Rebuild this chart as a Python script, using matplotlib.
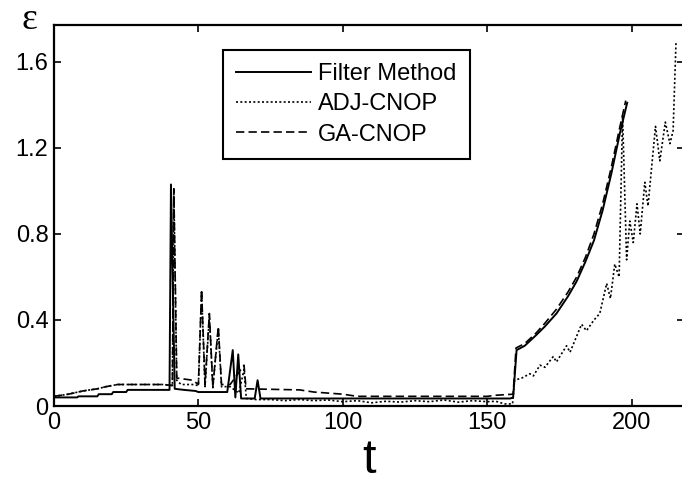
import numpy as np
import matplotlib
matplotlib.use("Agg")
import matplotlib.pyplot as plt

# Filter Method (solid)
t_filter = [0, 8, 8.5, 15, 15.5, 20, 20.5, 25, 25.5, 40, 40.5, 41.8, 45, 49, 50, 60,
            61.9, 62.8, 63.8, 64.8, 66, 69.5, 70.5, 71.5, 100, 150, 158, 159,
            160.2, 163, 167, 170, 174, 178, 181, 184, 187, 190, 193, 196, 198.5]
e_filter = [0.04, 0.04, 0.045, 0.045, 0.055, 0.055, 0.065, 0.065, 0.075, 0.075, 1.03, 0.08, 0.075, 0.07, 0.065, 0.065,
            0.26, 0.04, 0.24, 0.035, 0.035, 0.035, 0.12, 0.035, 0.035, 0.035, 0.035, 0.04,
            0.26, 0.28, 0.33, 0.37, 0.43, 0.51, 0.58, 0.67, 0.77, 0.91, 1.08, 1.27, 1.41]

# ADJ-CNOP (dotted)
t_adj = [0, 5, 10, 15, 18, 22, 38, 41, 41.5, 42.5, 44, 48, 50, 51.1, 52.3, 53.8, 55, 56.9, 58, 61,
         62, 64, 65.8, 66.6, 70, 75, 80, 85, 90, 95, 100, 105, 110, 115, 120, 125, 130, 135,
         140, 145, 150, 153, 156, 158.8, 159.5, 162, 164.8, 166, 168.3, 170, 172.9, 174, 177.5,
         178.7, 182.7, 184.4, 187, 189, 191.4, 192.7, 194.2, 195.7, 196.9, 198.3, 199.4, 200.6,
         201.9, 203, 204.6, 205.7, 208.3, 209.8, 211.7, 213.3, 214.4, 215.4, 216]
e_adj = [0.045, 0.055, 0.07, 0.08, 0.09, 0.1, 0.1, 0.095, 0.99, 0.12, 0.1, 0.1, 0.095, 0.53, 0.09, 0.42, 0.085, 0.36, 0.09, 0.09,
         0.08, 0.06, 0.17, 0.035, 0.03, 0.03, 0.025, 0.03, 0.025, 0.028, 0.02, 0.025, 0.015, 0.022, 0.018, 0.025, 0.02, 0.028,
         0.018, 0.025, 0.02, 0.022, 0.01, 0.01, 0.12, 0.13, 0.15, 0.14, 0.19, 0.18, 0.23, 0.205, 0.28,
         0.25, 0.38, 0.35, 0.4, 0.43, 0.57, 0.5, 0.66, 0.6, 1.35, 0.68, 0.86, 0.76,
         0.94, 0.8, 1.04, 0.93, 1.3, 1.14, 1.32, 1.22, 1.28, 1.69, 1.69]

# GA-CNOP (dashed)
t_ga = [0, 5, 10, 15, 18, 22, 38, 41, 41.5, 42.5, 48, 50, 51.1, 52.3, 53.8, 55, 56.9, 58, 61,
        65.8, 66.5, 85, 90, 100, 105, 150, 153, 159, 160, 163, 167, 170, 174, 178, 181, 184,
        187, 190, 193, 196, 198]
e_ga = [0.045, 0.055, 0.07, 0.08, 0.09, 0.1, 0.1, 0.095, 1.01, 0.13, 0.12, 0.1, 0.54, 0.1, 0.43, 0.09, 0.37, 0.1, 0.1,
        0.19, 0.08, 0.075, 0.065, 0.055, 0.045, 0.045, 0.05, 0.055, 0.27, 0.29, 0.34, 0.385, 0.45, 0.53, 0.6, 0.69,
        0.8, 0.94, 1.11, 1.3, 1.42]

x_ticks = [0, 50, 100, 150, 200]
y_ticks = [0, 0.4, 0.8, 1.2, 1.6]
y_labels = ["0", "0.4", "0.8", "1.2", "1.6"]

plt.rcParams['font.family'] = ['Liberation Sans', 'DejaVu Sans']

fig = plt.figure(figsize=(6.82, 4.88), dpi=100)
ax = fig.add_axes([0.0792, 0.168, 0.923, 0.781])

ax.plot(t_filter, e_filter, color='black', lw=1.4, ls='-', label='Filter Method')
ax.plot(t_adj, e_adj, color='black', lw=1.2, ls=(0, (1.2, 1.4)), label='ADJ-CNOP')
ax.plot(t_ga, e_ga, color='black', lw=1.2, ls=(0, (5, 2.5)), label='GA-CNOP')

ax.set_xlim(0, 218)
ax.set_ylim(0, 1.772)
ax.set_xticks(x_ticks)
ax.set_yticks(y_ticks)
ax.set_yticklabels(y_labels)
ax.tick_params(direction='in', length=5, width=1.2, labelsize=17, top=True, right=True, pad=4)
for s in ax.spines.values():
    s.set_linewidth(1.6)

ax.set_xlabel('t', fontsize=35, labelpad=3)
fig.text(29 / 682, 1 - 20 / 488, 'ε', fontsize=27, family='Liberation Serif', ha='center', va='center')

leg = ax.legend(loc='upper left', bbox_to_anchor=(0.268, 0.934), borderaxespad=0, fontsize=17,
                handlelength=3.2, handletextpad=0.3, labelspacing=0.35, borderpad=0.55,
                fancybox=False, framealpha=1, edgecolor='black')
leg.get_frame().set_linewidth(1.5)

fig.savefig('out.png', dpi=100)
